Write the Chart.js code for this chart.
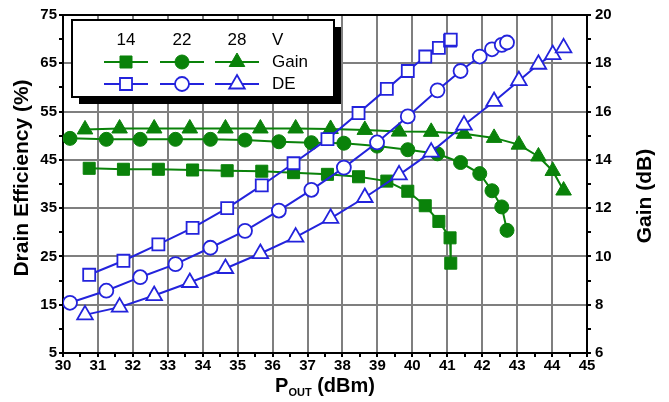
<!DOCTYPE html>
<html>
<head>
<meta charset="utf-8">
<script src="https://cdn.jsdelivr.net/npm/chart.js@4"></script>
<style>
  html, body { margin: 0; padding: 0; background: #fff; }
  #wrap { width: 669px; height: 402px; }
</style>
</head>
<body>
<div id="wrap"><canvas id="c" width="669" height="402"></canvas></div>
<script>
// values
const pout14 = [30.75, 31.73, 32.73, 33.71, 34.7, 35.69, 36.6, 37.57, 38.46, 39.27, 39.87, 40.37, 40.76, 41.08, 41.1];
const gain14 = [13.65, 13.61, 13.61, 13.58, 13.55, 13.53, 13.47, 13.4, 13.3, 13.12, 12.7, 12.1, 11.45, 10.77, 9.72];
const de14 = [21.2, 24.1, 27.5, 30.9, 35.0, 39.7, 44.3, 49.3, 54.7, 59.7, 63.4, 66.4, 68.2, 69.7, 69.9];

const pout22 = [30.2, 31.24, 32.21, 33.22, 34.22, 35.21, 36.18, 37.11, 38.04, 38.99, 39.87, 40.72, 41.38, 41.93, 42.28, 42.56, 42.71];
const gain22 = [14.89, 14.85, 14.85, 14.85, 14.85, 14.82, 14.75, 14.71, 14.69, 14.57, 14.42, 14.25, 13.89, 13.43, 12.72, 12.05, 11.08];
const de22 = [15.4, 17.9, 20.7, 23.4, 26.8, 30.3, 34.5, 38.8, 43.4, 48.6, 54.0, 59.4, 63.4, 66.4, 67.9, 68.8, 69.3];

const pout28 = [30.63, 31.62, 32.61, 33.63, 34.65, 35.65, 36.66, 37.66, 38.64, 39.62, 40.54, 41.48, 42.34, 43.05, 43.61, 44.02, 44.33];
const gain28 = [15.26, 15.3, 15.3, 15.3, 15.3, 15.3, 15.3, 15.28, 15.24, 15.17, 15.16, 15.08, 14.91, 14.63, 14.14, 13.54, 12.73];
const de28 = [12.9, 14.5, 16.9, 19.6, 22.5, 25.6, 29.0, 32.9, 37.2, 41.9, 46.6, 52.2, 57.1, 61.4, 64.8, 66.8, 68.2];

const voltages = ['14', '22', '28'];
const xTicks = [30, 31, 32, 33, 34, 35, 36, 37, 38, 39, 40, 41, 42, 43, 44, 45];
const deTicks = [5, 15, 25, 35, 45, 55, 65, 75];
const gainTicks = [6, 8, 10, 12, 14, 16, 18, 20];

const GREEN = '#0a820a';
const BLUE = '#2323dc';
const GRID = '#7f7f7f';
const FONT = '"Liberation Sans", Arial, sans-serif';

function pts(xs, ys) {
  return xs.map((x, i) => ({ x: x, y: ys[i] }));
}

const shapes = ['rect', 'circle', 'triangle'];
const radius = { rect: 8.5, circle: 7, triangle: 9 };
const pouts = [pout14, pout22, pout28];
const gains = [gain14, gain22, gain28];
const des = [de14, de22, de28];

const datasets = [];
des.forEach((d, i) => {
  datasets.push({
    label: 'DE ' + voltages[i] + ' V',
    data: pts(pouts[i], d),
    yAxisID: 'y',
    borderColor: BLUE,
    borderWidth: 2,
    pointStyle: shapes[i],
    pointRadius: radius[shapes[i]],
    pointBackgroundColor: '#fff',
    pointBorderColor: BLUE,
    pointBorderWidth: 1.8,
    showLine: true,
    tension: 0
  });
});
gains.forEach((g, i) => {
  datasets.push({
    label: 'Gain ' + voltages[i] + ' V',
    data: pts(pouts[i], g),
    yAxisID: 'y1',
    borderColor: GREEN,
    borderWidth: 2,
    pointStyle: shapes[i],
    pointRadius: radius[shapes[i]],
    pointBackgroundColor: GREEN,
    pointBorderColor: GREEN,
    pointBorderWidth: 1,
    showLine: true,
    tension: 0
  });
});

// frame, axis titles and the boxed legend
const decor = {
  id: 'decor',
  beforeDatasetsDraw(chart) {
    const { ctx, chartArea: a } = chart;
    ctx.save();
    ctx.strokeStyle = '#000';
    ctx.lineWidth = 2;
    ctx.strokeRect(a.left, a.top, a.right - a.left, a.bottom - a.top);
    ctx.restore();
  },
  afterDatasetsDraw(chart) {
    const { ctx } = chart;
    ctx.save();
    ctx.fillStyle = '#000';
    ctx.textBaseline = 'middle';

    // y titles, both read bottom to top
    ctx.font = 'bold 21px ' + FONT;
    ctx.textAlign = 'center';
    ctx.save();
    ctx.translate(22, 178);
    ctx.rotate(-Math.PI / 2);
    ctx.fillText('Drain Efficiency (%)', 0, 0);
    ctx.restore();
    ctx.save();
    ctx.translate(645, 196);
    ctx.rotate(-Math.PI / 2);
    ctx.fillText('Gain (dB)', 0, 0);
    ctx.restore();

    // x title with subscript
    ctx.textAlign = 'left';
    const big = 'bold 20px ' + FONT, small = 'bold 11px ' + FONT;
    ctx.font = big;
    const wP = ctx.measureText('P').width;
    const wRest = ctx.measureText(' (dBm)').width;
    ctx.font = small;
    const wSub = ctx.measureText('OUT').width;
    let x0 = 325 - (wP + wSub + wRest) / 2;
    ctx.font = big;
    ctx.fillText('P', x0, 386);
    ctx.font = small;
    ctx.fillText('OUT', x0 + wP, 393);
    ctx.font = big;
    ctx.fillText(' (dBm)', x0 + wP + wSub, 386);

    // legend box with shadow
    const bx = 72, by = 20, bw = 262, bh = 77;
    ctx.fillStyle = '#000';
    ctx.fillRect(bx + 7, by + 7, bw, bh);
    ctx.fillStyle = '#fff';
    ctx.fillRect(bx, by, bw, bh);
    ctx.strokeStyle = '#000';
    ctx.lineWidth = 2;
    ctx.strokeRect(bx, by, bw, bh);

    const cols = [126, 182, 237];
    ctx.fillStyle = '#000';
    ctx.font = '17px ' + FONT;
    ctx.textAlign = 'center';
    voltages.forEach((v, i) => ctx.fillText(v, cols[i], 40));
    ctx.textAlign = 'left';
    ctx.fillText('V', 272, 40);
    ctx.fillText('Gain', 272, 62);
    ctx.fillText('DE', 272, 84);

    const rows = [
      { y: 62, color: GREEN, fill: GREEN, bw: 1 },
      { y: 84, color: BLUE, fill: '#fff', bw: 1.8 }
    ];
    rows.forEach(r => {
      cols.forEach((cx, i) => {
        ctx.strokeStyle = r.color;
        ctx.lineWidth = 2;
        ctx.beginPath();
        ctx.moveTo(cx - 22, r.y);
        ctx.lineTo(cx + 22, r.y);
        ctx.stroke();
        ctx.fillStyle = r.fill;
        ctx.lineWidth = r.bw;
        Chart.helpers.drawPoint(ctx, {
          pointStyle: shapes[i],
          radius: radius[shapes[i]],
          rotation: 0,
          borderWidth: r.bw
        }, cx, r.y);
      });
    });
    ctx.restore();
  }
};

const tickFont = { family: FONT, size: 15, weight: 'bold' };

new Chart(document.getElementById('c'), {
  type: 'scatter',
  data: { datasets: datasets },
  options: {
    responsive: false,
    animation: false,
    devicePixelRatio: 1,
    layout: { padding: { top: 15, left: 0, right: 0, bottom: 0 } },
    plugins: { legend: { display: false }, tooltip: { enabled: false } },
    elements: { line: { fill: false } },
    scales: {
      x: {
        type: 'linear',
        min: 30, max: 45,
        afterFit(s) { s.height = 49; },
        afterBuildTicks(s) {
          const t = [];
          for (let v = 30; v <= 45; v += 0.5) t.push({ value: v });
          s.ticks = t;
        },
        ticks: {
          autoSkip: false, maxRotation: 0, padding: 0,
          color: '#000', font: tickFont,
          callback: v => xTicks.includes(v) ? String(v) : ''
        },
        grid: {
          color: c => xTicks.includes(c.tick && c.tick.value) ? GRID : 'rgba(0,0,0,0)',
          tickColor: '#000',
          lineWidth: 2,
          tickLength: 4
        },
        border: { color: '#000', width: 2 }
      },
      y: {
        position: 'left',
        min: 5, max: 75,
        afterFit(s) { s.width = 63; },
        afterBuildTicks(s) {
          const t = [];
          for (let v = 5; v <= 75; v += 5) t.push({ value: v });
          s.ticks = t;
        },
        ticks: {
          autoSkip: false, padding: 2,
          color: '#000', font: tickFont,
          callback: v => deTicks.includes(v) ? String(v) : ''
        },
        grid: {
          color: c => deTicks.includes(c.tick && c.tick.value) ? GRID : 'rgba(0,0,0,0)',
          tickColor: '#000',
          lineWidth: 2,
          tickLength: 4
        },
        border: { color: '#000', width: 2 }
      },
      y1: {
        position: 'right',
        min: 6, max: 20,
        afterFit(s) { s.width = 82; },
        afterBuildTicks(s) {
          const t = [];
          for (let v = 6; v <= 20; v += 1) t.push({ value: v });
          s.ticks = t;
        },
        ticks: {
          autoSkip: false, padding: 4,
          color: '#000', font: tickFont,
          callback: v => gainTicks.includes(v) ? String(v) : ''
        },
        grid: {
          drawOnChartArea: false,
          tickColor: '#000',
          lineWidth: 2,
          tickLength: 4
        },
        border: { color: '#000', width: 2 }
      }
    }
  },
  plugins: [decor]
});
</script>
</body>
</html>
